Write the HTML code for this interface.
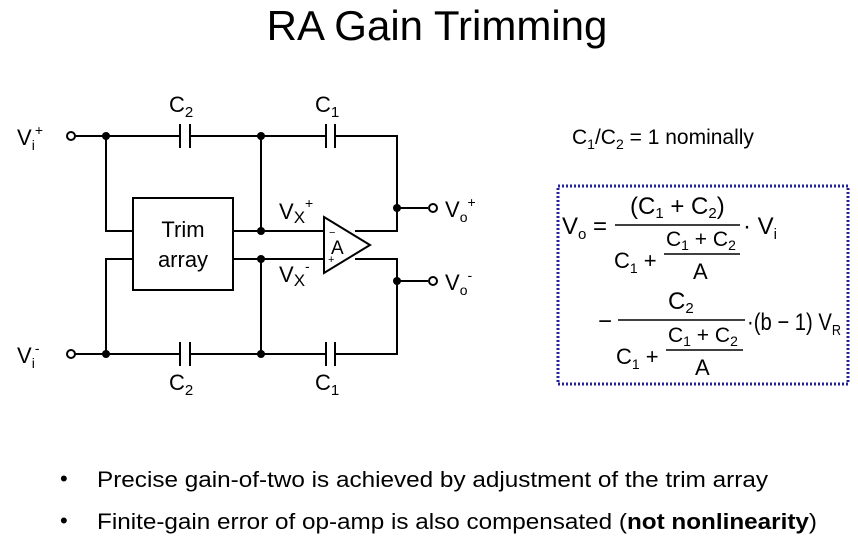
<!DOCTYPE html>
<html><head><style>
body{margin:0;background:#fff;}
svg{display:block;font-family:"Liberation Sans",Arial,sans-serif;}
</style></head><body>
<svg width="858" height="537" viewBox="0 0 858 537">
<text x="437" y="40" font-size="42" text-anchor="middle">RA Gain Trimming</text>
<g stroke="#000" stroke-width="2" fill="none">
<path d="M75 136 H180 M190 136 H326 M335 136 H397 V231 H355"/>
<path d="M180 124 V148 M190 124 V148 M326 124 V148 M335 124 V148"/>
<path d="M75 354 H180 M190 354 H326 M335 354 H397 V259 H355"/>
<path d="M180 342 V366 M190 342 V366 M326 342 V366 M335 342 V366"/>
<path d="M106 136 V231 H133 M106 354 V259 H133"/>
<path d="M233 231 H324 M233 259 H324 M261 136 V231 M261 259 V354"/>
<rect x="133" y="198" width="100" height="92"/>
<path d="M324 217 L370 245 L324 273 Z" fill="#fff"/>
<path d="M397 208 H428 M397 281 H428"/>
<circle cx="71" cy="136" r="4" fill="#fff"/>
<circle cx="71" cy="354" r="4" fill="#fff"/>
<circle cx="433" cy="208" r="4" fill="#fff"/>
<circle cx="433" cy="281" r="4" fill="#fff"/>
</g>
<g fill="#000">
<circle cx="106" cy="136" r="4"/><circle cx="261" cy="136" r="4"/>
<circle cx="106" cy="354" r="4"/><circle cx="261" cy="354" r="4"/>
<circle cx="261" cy="231" r="4"/><circle cx="261" cy="259" r="4"/>
<circle cx="397" cy="208" r="4"/><circle cx="397" cy="281" r="4"/>
</g>
<g font-size="22">
<text x="169" y="112">C<tspan font-size="15" dy="5">2</tspan></text>
<text x="315" y="112">C<tspan font-size="15" dy="5">1</tspan></text>
<text x="169" y="390">C<tspan font-size="15" dy="5">2</tspan></text>
<text x="315" y="390">C<tspan font-size="15" dy="5">1</tspan></text>
<text x="17" y="145">V<tspan font-size="14" dy="5">i</tspan><tspan font-size="14" dy="-15">+</tspan></text>
<text x="17" y="363">V<tspan font-size="14" dy="5">i</tspan><tspan font-size="14" dy="-15">-</tspan></text>
<text x="445" y="217">V<tspan font-size="14" dy="5">o</tspan><tspan font-size="14" dy="-15">+</tspan></text>
<text x="445" y="290">V<tspan font-size="14" dy="5">o</tspan><tspan font-size="14" dy="-15">-</tspan></text>
<text x="279" y="219">V<tspan font-size="17" dy="4">X</tspan><tspan font-size="14" dy="-15">+</tspan></text>
<text x="279" y="282">V<tspan font-size="17" dy="4">X</tspan><tspan font-size="14" dy="-15">-</tspan></text>
<text x="183" y="237" text-anchor="middle">Trim</text>
<text x="183" y="267" text-anchor="middle">array</text>
<text x="331" y="254" font-size="19">A</text>
</g>
<text x="329" y="236" font-size="11">−</text>
<text x="328" y="263" font-size="11">+</text>
<text x="572" y="144" font-size="21">C<tspan font-size="14" dy="5">1</tspan><tspan dy="-5">/C</tspan><tspan font-size="14" dy="5">2</tspan><tspan dy="-5"> = 1 nominally</tspan></text>
<rect x="558" y="186" width="290" height="198" fill="none" stroke="#22229a" stroke-width="3" stroke-dasharray="2,2"/>
<g font-size="24">
<text x="562" y="234">V<tspan font-size="15" dy="5">o</tspan><tspan dy="-5"> =</tspan></text>
<text x="630" y="214">(C<tspan font-size="15" dy="4">1</tspan><tspan dy="-4"> + C</tspan><tspan font-size="15" dy="4">2</tspan><tspan dy="-4">)</tspan></text>
<line x1="615" y1="225" x2="740" y2="225" stroke="#000" stroke-width="1.5"/>
<text x="614" y="268" font-size="22">C<tspan font-size="14" dy="5">1</tspan><tspan dy="-5"> +</tspan></text>
<text x="666" y="246" font-size="21">C<tspan font-size="14" dy="4">1</tspan><tspan dy="-4"> + C</tspan><tspan font-size="14" dy="4">2</tspan></text>
<line x1="664" y1="254" x2="740" y2="254" stroke="#000" stroke-width="1.5"/>
<text x="693" y="279" font-size="22">A</text>
<text x="743" y="234">· V<tspan font-size="15" dy="5">i</tspan></text>
<text x="598" y="329">−</text>
<text x="668" y="309">C<tspan font-size="15" dy="4">2</tspan></text>
<line x1="618" y1="320" x2="745" y2="320" stroke="#000" stroke-width="1.5"/>
<text x="616" y="364" font-size="22">C<tspan font-size="14" dy="5">1</tspan><tspan dy="-5"> +</tspan></text>
<text x="668" y="342" font-size="21">C<tspan font-size="14" dy="4">1</tspan><tspan dy="-4"> + C</tspan><tspan font-size="14" dy="4">2</tspan></text>
<line x1="666" y1="350" x2="743" y2="350" stroke="#000" stroke-width="1.5"/>
<text x="695" y="375" font-size="22">A</text>
<text x="747" y="330" textLength="94" lengthAdjust="spacingAndGlyphs">·(b − 1) V<tspan font-size="15" dy="5">R</tspan></text>
</g>
<g font-size="22">
<text x="60" y="486">•</text>
<text x="97" y="487" textLength="671" lengthAdjust="spacingAndGlyphs">Precise gain-of-two is achieved by adjustment of the trim array</text>
<text x="60" y="528">•</text>
<text x="97" y="529" textLength="720" lengthAdjust="spacingAndGlyphs">Finite-gain error of op-amp is also compensated (<tspan font-weight="bold">not nonlinearity</tspan>)</text>
</g>
</svg>
</body></html>
